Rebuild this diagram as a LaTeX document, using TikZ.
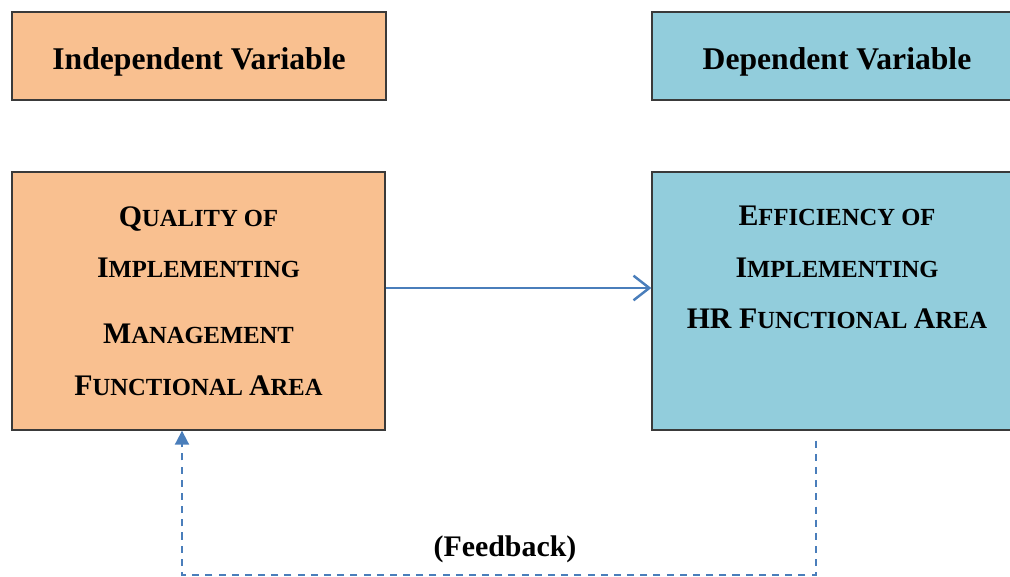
\documentclass[tikz,border=0pt]{standalone}
\usepackage{fontspec}
\setmainfont{Liberation Serif}
\usetikzlibrary{arrows.meta,positioning}

\definecolor{ivfill}{HTML}{F9C090}
\definecolor{dvfill}{HTML}{92CDDC}
\definecolor{linkblue}{HTML}{4A7EBB}
\definecolor{edgegray}{HTML}{3A3A3A}

% first letter large, rest as small capitals
\newcommand{\fakesc}[2]{{\fontsize{17}{20}\selectfont #1}{\fontsize{14}{20}\selectfont #2}}

\begin{document}
\begin{tikzpicture}[x=0.02cm,y=-0.02cm,
    varbox/.style={rectangle,draw=edgegray,line width=0.8pt,inner sep=0pt},
    ivbox/.style={varbox,fill=ivfill},
    dvbox/.style={varbox,fill=dvfill},
    headtext/.style={font=\fontsize{18}{22}\selectfont\bfseries,text height=0.56cm,text depth=0pt},
    bodytext/.style={font=\fontsize{14}{29.5}\selectfont\bfseries,align=center,inner sep=0pt},
    link/.style={draw=linkblue,line width=1.4pt},
    feedback/.style={draw=linkblue,line width=1.1pt,dash pattern=on 4pt off 3.5pt}]

    \useasboundingbox (0,0) rectangle (1010,577);
    \clip (0,0) rectangle (1010,577);

    % Variable headers
    \node[ivbox,headtext,minimum width=7.48cm,minimum height=1.76cm] (ivhead) at (199,56) {Independent Variable};
    \node[dvbox,headtext,minimum width=7.4cm,minimum height=1.76cm] (dvhead) at (837,56) {Dependent Variable};

    % Main boxes
    \node[ivbox,bodytext,minimum width=7.46cm,minimum height=5.16cm] (qualbox) at (198.5,301)
        {\fakesc{Q}{UALITY OF}\\ \fakesc{I}{MPLEMENTING}\\[0.28cm]
         \fakesc{M}{ANAGEMENT}\\ \fakesc{F}{UNCTIONAL} \fakesc{A}{REA}};
    \node[dvbox,minimum width=7.4cm,minimum height=5.16cm] (effbox) at (837,301) {};
    \node[bodytext,below=0.68cm of effbox.north] (efftext)
        {\fakesc{E}{FFICIENCY OF}\\ \fakesc{I}{MPLEMENTING}\\
         \fakesc{HR F}{UNCTIONAL} \fakesc{A}{REA}};

    % Arrow between boxes
    \draw[link,-{Straight Barb[length=9pt,width=14pt]}] ([yshift=0.26cm]qualbox.east) -- ([yshift=0.26cm]effbox.west);

    % Feedback loop
    \coordinate (fbright) at (816,575);
    \coordinate (fbleft) at (182,575);
    \draw[feedback,-{Triangle[length=8pt,width=8pt]}] ([yshift=-0.2cm]effbox.south -| fbright) -- (fbright) -- (fbleft) -- (qualbox.south -| fbleft);
    \node[font=\fontsize{17}{20}\selectfont\bfseries] (fblabel) at (505,549) {(Feedback)};
\end{tikzpicture}
\end{document}
